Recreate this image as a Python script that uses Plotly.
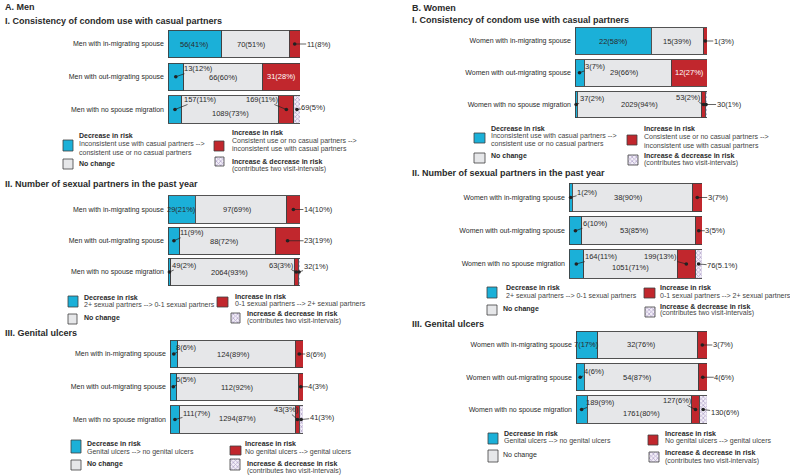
import plotly.graph_objects as go

W, H = 790, 475
FONT = "Liberation Sans, Arial, sans-serif"

# ---------------- data ----------------
men_groups = ["Men with in-migrating spouse", "Men with out-migrating spouse", "Men with no spouse migration"]
women_groups = ["Women with in-migrating spouse", "Women with out-migrating spouse", "Women with no spouse migration"]
segments = ["Decrease in risk", "No change", "Increase in risk", "Increase & decrease in risk"]

men_condom_n = [[56, 70, 11, 0], [13, 66, 31, 0], [157, 1089, 169, 69]]
men_condom_pct = [["41%", "51%", "8%", ""], ["12%", "60%", "28%", ""], ["11%", "73%", "11%", "5%"]]
men_partners_n = [[29, 97, 14, 0], [11, 88, 23, 0], [49, 2064, 63, 32]]
men_partners_pct = [["21%", "69%", "10%", ""], ["9%", "72%", "19%", ""], ["2%", "93%", "3%", "1%"]]
men_ulcers_n = [[8, 124, 8, 0], [6, 112, 4, 0], [111, 1294, 43, 41]]
men_ulcers_pct = [["6%", "89%", "6%", ""], ["5%", "92%", "3%", ""], ["7%", "87%", "3%", "3%"]]
women_condom_n = [[22, 15, 1, 0], [3, 29, 12, 0], [37, 2029, 53, 30]]
women_condom_pct = [["58%", "39%", "3%", ""], ["7%", "66%", "27%", ""], ["2%", "94%", "2%", "1%"]]
women_partners_n = [[1, 38, 3, 0], [6, 53, 3, 0], [164, 1051, 199, 76]]
women_partners_pct = [["2%", "90%", "7%", ""], ["10%", "85%", "5%", ""], ["11%", "71%", "13%", "5.1%"]]
women_ulcers_n = [[7, 32, 3, 0], [4, 54, 4, 0], [189, 1761, 127, 130]]
women_ulcers_pct = [["17%", "76%", "7%", ""], ["6%", "87%", "6%", ""], ["9%", "80%", "6%", "6%"]]

sex_titles = ["A. Men", "B. Women"]
section_titles = ["I. Consistency of condom use with casual partners",
                  "II. Number of sexual partners in the past year",
                  "III. Genital ulcers"]
decrease_desc = [["Inconsistent use with casual partners -->", "consistent use or no casual partners"],
                 ["2+ sexual partners --> 0-1 sexual partners"],
                 ["Genital ulcers --> no genital ulcers"]]
increase_desc = [["Consistent use or no casual partners -->", "inconsistent use with casual partners"],
                 ["0-1 sexual partners --> 2+ sexual partners"],
                 ["No genital ulcers --> genital ulcers"]]
both_desc = "(contributes two visit-intervals)"

panel_counts = [men_condom_n, men_partners_n, men_ulcers_n, women_condom_n, women_partners_n, women_ulcers_n]
panel_pcts = [men_condom_pct, men_partners_pct, men_ulcers_pct, women_condom_pct, women_partners_pct, women_ulcers_pct]
panel_groups = [men_groups] * 3 + [women_groups] * 3

# ---------------- style / layout (pixels) ----------------
COLORS = ["#1BB0D8", "#E6E7E9", "#C1272D", "#F1ECF7"]
LINE = "#404040"
TXT = "#2a2a2a"

PANELS = [
    dict(x0=168, x1=300, yc=(44, 78, 109.5), h=27.5),
    dict(x0=168, x1=300, yc=(209.5, 240.5, 272), h=27.5),
    dict(x0=170, x1=303, yc=(354, 386, 419.5), h=27.5),
    dict(x0=575, x1=707, yc=(41, 72.5, 104.5), h=26.5),
    dict(x0=569, x1=702, yc=(197.5, 231.5, 264), h=28.5),
    dict(x0=576, x1=707, yc=(345, 377, 409.5), h=27.5),
]

# label placement: ('in', dx, dy) dark text centered, ('inw',...) white, ('out', ax, ay) with leader
I0 = ('in', 0, 0)
LABELS = [
    [[I0, ('in', -4, 0), ('out', 24, 0), None],
     [('out', 23, -8), ('in', 0, 1), ('inw', 0, 0), None],
     [('out', 25, -10), ('in', 0, 4), ('out', -24, -10), ('out', 17, -2)]],
    [[I0, ('in', -4, 0), ('out', 25, 0), None],
     [('out', 18, -8), ('in', -3, 1), ('out', 31, 0), None],
     [('out', 15, -7), ('in', -3, 0), ('out', -15, -7), ('out', 17, -6)]],
    [[('out', 13, -7), ('in', -3, 0), ('out', 17, 0), None],
     [('out', 13, -7), ('in', -1, 1), ('out', 18, 0), None],
     [('out', 22, -6), ('in', 0, -1), ('out', -11, -10), ('out', 21, -2)]],
    [[I0, I0, ('out', 19, 0), None],
     [('out', 16, -6), ('in', -3, 0), ('inw', 0, 0), None],
     [('out', 16, -6), I0, ('out', -15, -7), ('out', 23, 0)]],
    [[('out', 17, -5), ('in', -4, 0), ('out', 21, 0), None],
     [('out', 20, -7), ('in', -4, 0), ('out', 17, 0), None],
     [('out', 25, -7), ('in', 0, 4), ('out', -26, -7), ('out', 24, 2)]],
    [[I0, ('in', -6, 0), ('out', 21, 0), None],
     [('out', 14, -6), ('in', -4, 0), ('out', 22, 0), None],
     [('out', 19, -7), ('in', 2, 4), ('out', -18, -9), ('out', 22, 3)]],
]

# legend layout per panel: boxes (x0,y0,x1,y1); text x and line ys
LEGENDS = [
    dict(dec=(63, 140, 73, 151), dec_t=(77, [135, 144, 153]), nc=(63, 159, 73, 169), nc_t=(77, 164, True),
         inc=(214, 141, 224, 151), inc_t=(230, [132, 141, 149]), both=(215, 157, 224, 166), both_t=(230, [161, 169])),
    dict(dec=(68, 296, 78, 307), dec_t=(82, [297, 305]), nc=(68, 314, 77, 324), nc_t=(82, 318, True),
         inc=(217, 297, 228, 307), inc_t=(233, [296, 304]), both=(231, 313, 240, 323), both_t=(245, [313, 321])),
    dict(dec=(71, 440, 81, 453), dec_t=(85, [443, 452]), nc=(71, 460, 81, 470), nc_t=(85, 464, True),
         inc=(230, 446, 241, 455), inc_t=(243, [443, 452]), both=(230, 459, 240, 470), both_t=(245, [463, 471])),
    dict(dec=(474, 133, 485, 143), dec_t=(489, [128, 136, 144]), nc=(474, 153, 485, 163), nc_t=(489, 156, True),
         inc=(627, 135, 637, 145), inc_t=(642, [128, 137, 146]), both=(628, 155, 638, 165), both_t=(642, [155, 163])),
    dict(dec=(487, 287, 497, 298), dec_t=(504, [287, 296]), nc=(487, 305, 497, 315), nc_t=(501, 309, True),
         inc=(644, 288, 655, 298), inc_t=(658, [287, 296]), both=(645, 307, 655, 317), both_t=(658, [306, 313])),
    dict(dec=(488, 433, 498, 444), dec_t=(502, [433, 441]), nc=(488, 450, 498, 462), nc_t=(501, 455, False),
         inc=(648, 435, 658, 445), inc_t=(663, [433, 441]), both=(649, 452, 659, 462), both_t=(663, [452, 461])),
]

TITLE_POS = [(3, 7), (410, 8)]
SECTION_POS = [[(3, 21), (3, 184), (3, 333)], [(410, 20), (410, 173), (410, 324)]]

PATTERN = dict(shape="x", fgcolor="#7A64A4", bgcolor="#F3EFF8", size=3, solidity=0.45)

fig = go.Figure()
annotations = []


def txt(text, x, y, size=7, bold=False, color=TXT, anchor="left"):
    annotations.append(dict(text=f"<b>{text}</b>" if bold else text, x=x, y=y, xref="x7", yref="y7",
                            showarrow=False, xanchor=anchor, yanchor="middle",
                            font=dict(size=size, color=color, family=FONT)))


layout_axes = {}
for p, cfg in enumerate(PANELS):
    k = p + 1
    groups = panel_groups[p]
    counts = panel_counts[p]
    pcts = panel_pcts[p]
    yc = cfg["yc"]
    pitch = (yc[2] - yc[0]) / 2
    top, bot = yc[0] - pitch / 2, yc[2] + pitch / 2
    width = cfg["h"] / pitch
    layout_axes[f"xaxis{k}"] = dict(domain=[cfg["x0"] / W, cfg["x1"] / W], range=[0, 100], visible=False,
                                    anchor=f"y{k}", fixedrange=True)
    layout_axes[f"yaxis{k}"] = dict(domain=[1 - bot / H, 1 - top / H], type="category",
                                    categoryorder="array", categoryarray=groups, range=[2.5, -0.5],
                                    anchor=f"x{k}", showgrid=False, showline=False, zeroline=False,
                                    ticks="", ticklabelstandoff=3, fixedrange=True,
                                    tickfont=dict(size=7, color=TXT, family=FONT))
    totals = [sum(r) for r in counts]
    for s in range(4):
        vals = [counts[b][s] / totals[b] * 100 for b in range(3)]
        marker = dict(color=COLORS[s], line=dict(color=LINE, width=0.9))
        if s == 3:
            marker["pattern"] = PATTERN
        fig.add_trace(go.Bar(x=vals, y=groups, orientation="h", width=width, marker=marker,
                             name=segments[s], xaxis=f"x{k}", yaxis=f"y{k}", showlegend=False,
                             hoverinfo="skip"))
    # value labels
    for b in range(3):
        cum = 0
        for s in range(4):
            v = counts[b][s] / totals[b] * 100
            mid = cum + v / 2
            cum += v
            if counts[b][s] == 0:
                continue
            spec = LABELS[p][b][s]
            label = f"{counts[b][s]}({pcts[b][s]})"
            if spec[0] in ("in", "inw"):
                annotations.append(dict(text=label, x=mid, y=groups[b], xref=f"x{k}", yref=f"y{k}",
                                        showarrow=False, xshift=spec[1], yshift=-spec[2],
                                        font=dict(size=7.5, family=FONT,
                                                  color="white" if spec[0] == "inw" else TXT)))
            else:
                annotations.append(dict(text=label, x=mid, y=groups[b], xref=f"x{k}", yref=f"y{k}",
                                        showarrow=True, ax=spec[1], ay=spec[2], arrowhead=6,
                                        arrowsize=1.3, arrowwidth=0.7, arrowcolor="#222", standoff=0,
                                        borderpad=0,
                                        font=dict(size=7.5, family=FONT, color=TXT)))

# overlay pixel axis for titles and legend keys
layout_axes["xaxis7"] = dict(domain=[0, 1], range=[0, W], visible=False, anchor="y7", fixedrange=True)
layout_axes["yaxis7"] = dict(domain=[0, 1], range=[H, 0], visible=False, anchor="x7", fixedrange=True)


def swatch(box, color, pattern=None):
    x0, y0, x1, y1 = box
    kw = {}
    if pattern:
        kw["fillpattern"] = pattern
    fig.add_trace(go.Scatter(x=[x0, x1, x1, x0, x0], y=[y0, y0, y1, y1, y0], mode="lines", fill="toself",
                             fillcolor=color, line=dict(color=LINE, width=0.8), xaxis="x7", yaxis="y7",
                             showlegend=False, hoverinfo="skip", **kw))


for sx in range(2):
    tx, ty = TITLE_POS[sx]
    txt(sex_titles[sx], tx, ty, size=9, bold=True)
    for sec in range(3):
        sxp, syp = SECTION_POS[sx][sec]
        txt(section_titles[sec], sxp, syp, size=9, bold=True)

for p, lg in enumerate(LEGENDS):
    sec = p % 3
    swatch(lg["dec"], COLORS[0])
    swatch(lg["nc"], COLORS[1])
    swatch(lg["inc"], COLORS[2])
    swatch(lg["both"], COLORS[3], PATTERN)
    x, ys = lg["dec_t"]
    txt(segments[0], x, ys[0], bold=True)
    for line, yy in zip(decrease_desc[sec], ys[1:]):
        txt(line, x, yy, color="#444")
    x, yy, bold = lg["nc_t"]
    txt(segments[1], x, yy, bold=bold)
    x, ys = lg["inc_t"]
    txt(segments[2], x, ys[0], bold=True)
    for line, yy in zip(increase_desc[sec], ys[1:]):
        txt(line, x, yy, color="#444")
    x, ys = lg["both_t"]
    txt(segments[3], x, ys[0], bold=True)
    txt(both_desc, x, ys[1], color="#444")

fig.update_layout(width=W, height=H, margin=dict(l=0, r=0, t=0, b=0), barmode="stack",
                  paper_bgcolor="white", plot_bgcolor="rgba(0,0,0,0)", showlegend=False,
                  annotations=annotations, font=dict(family=FONT), **layout_axes)

fig.write_html("out.html", config={"displayModeBar": False, "staticPlot": True},
               post_script="document.body.style.margin='0px';document.body.style.overflow='hidden';")
